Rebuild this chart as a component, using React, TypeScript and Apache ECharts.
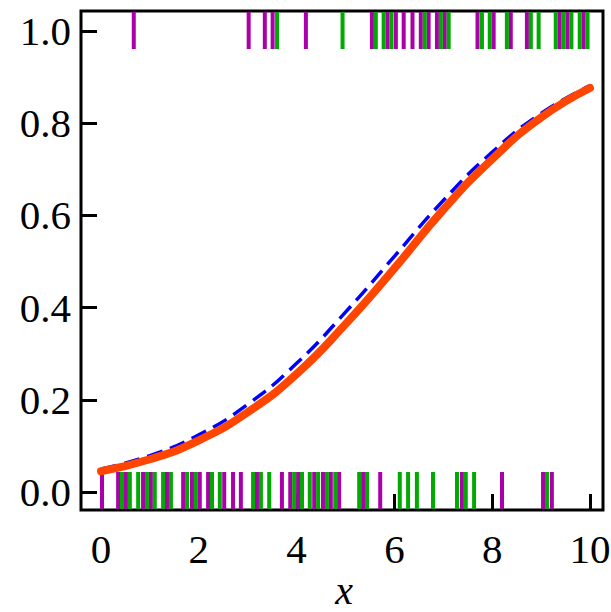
import React, { useEffect, useRef } from "react";
import * as echarts from "echarts";

const xs = [0, 1, 2, 3, 4, 5, 6, 7, 8, 9, 10];
const redFit = [0.045, 0.071, 0.112, 0.173, 0.256, 0.364, 0.485, 0.612, 0.722, 0.812, 0.876];
const blueFit = [0.05, 0.079, 0.124, 0.19, 0.279, 0.39, 0.511, 0.632, 0.737, 0.821, 0.881];

const purpleTop = [0.67, 3.02, 3.35, 3.51, 4.19, 5.54, 5.86, 6.03, 6.19, 6.37, 6.54, 6.7, 6.87, 7.03, 7.7, 8.03, 8.38, 8.71, 9.38, 9.54, 9.87];
const greenTop = [3.6, 4.94, 5.62, 5.78, 5.94, 6.62, 6.95, 7.11, 7.79, 7.95, 8.3, 8.79, 8.95, 9.3, 9.46, 9.62, 9.79, 9.95];
const purpleBottom = [0.02, 0.35, 0.51, 0.86, 1.02, 1.35, 1.68, 1.86, 2.02, 2.19, 2.52, 2.7, 2.86, 3.19, 3.7, 3.87, 4.03, 4.36, 4.54, 4.7, 4.87, 5.36, 5.71, 7.38, 8.2, 9.04, 9.22];
const greenBottom = [0.43, 0.59, 0.76, 0.94, 1.1, 1.27, 1.43, 1.76, 1.94, 2.27, 2.43, 3.11, 3.27, 3.44, 3.95, 4.11, 4.27, 4.44, 4.62, 4.79, 5.28, 5.44, 6.11, 6.28, 6.46, 6.79, 7.28, 7.46, 7.63, 9.12];

const xTicks = [0, 2, 4, 6, 8, 10];
const yTicks = [0, 0.2, 0.4, 0.6, 0.8, 1.0];
const xTitle = "x";

const PURPLE = "#aa00aa";
const GREEN = "#00aa00";
const FONT = "'Liberation Serif', 'Times New Roman', 'DejaVu Serif', serif";

function rug(name: string, values: number[], color: string, top: boolean) {
  return {
    name,
    type: "custom",
    z: 3,
    data: values.map((v) => [v, top ? 1 : 0]),
    renderItem: (params: any, api: any) => {
      const cs = params.coordSys;
      const p = api.coord([api.value(0), api.value(1)]);
      const len = 37;
      const y = top ? cs.y + 1 : cs.y + cs.height - len - 1;
      return {
        type: "rect",
        shape: { x: p[0] - 2, y, width: 4, height: len },
        style: { fill: color },
      };
    },
  };
}

export default function App() {
  const ref = useRef<HTMLDivElement>(null);
  useEffect(() => {
    document.body.style.margin = "0";
    const chart = echarts.init(ref.current!, null, { renderer: "svg" });
    chart.setOption({
      animation: false,
      backgroundColor: "#ffffff",
      grid: {
        left: 81,
        right: 8,
        top: 11,
        bottom: 102,
        outerBoundsMode: "none",
        containLabel: false,
        show: true,
        borderColor: "#000",
        borderWidth: 3,
        backgroundColor: "transparent",
      },
      graphic: [
        {
          type: "text",
          x: 344,
          y: 610,
          style: {
            text: xTitle,
            fill: "#000",
            fontFamily: FONT,
            fontStyle: "italic",
            fontSize: 40,
            textAlign: "center",
            textVerticalAlign: "bottom",
          },
        },
      ],
      xAxis: {
        type: "value",
        min: -0.409,
        max: 10.266,
        splitLine: { show: false },
        axisLine: { show: false, onZero: false },
        axisTick: { show: true, inside: true, length: 16, lineStyle: { color: "#000", width: 3 }, customValues: xTicks },
        axisLabel: { fontFamily: FONT, fontSize: 41, color: "#000", margin: 18, customValues: xTicks },
      },
      yAxis: {
        type: "value",
        min: -0.039,
        max: 1.043,
        splitLine: { show: false },
        axisLine: { show: false, onZero: false },
        axisTick: { show: true, inside: true, length: 16, lineStyle: { color: "#000", width: 3 }, customValues: yTicks },
        axisLabel: {
          fontFamily: FONT,
          fontSize: 41,
          color: "#000",
          margin: 10,
          customValues: yTicks,
          formatter: (v: number) => v.toFixed(1),
        },
      },
      series: [
        rug("purple top", purpleTop, PURPLE, true),
        rug("green top", greenTop, GREEN, true),
        rug("purple bottom", purpleBottom, PURPLE, false),
        rug("green bottom", greenBottom, GREEN, false),
        {
          name: "blue",
          type: "line",
          z: 4,
          smooth: true,
          showSymbol: false,
          data: xs.map((x, i) => [x, blueFit[i]]),
          lineStyle: { color: "#0000ff", width: 3.5, type: [16, 8] },
        },
        {
          name: "red",
          type: "line",
          z: 5,
          smooth: true,
          showSymbol: false,
          data: xs.map((x, i) => [x, redFit[i]]),
          lineStyle: { color: "#ff4500", width: 8, cap: "round" },
        },
      ],
    });
    return () => chart.dispose();
  }, []);
  return <div ref={ref} style={{ position: "absolute", left: 0, top: 0, width: 611, height: 612 }} />;
}
